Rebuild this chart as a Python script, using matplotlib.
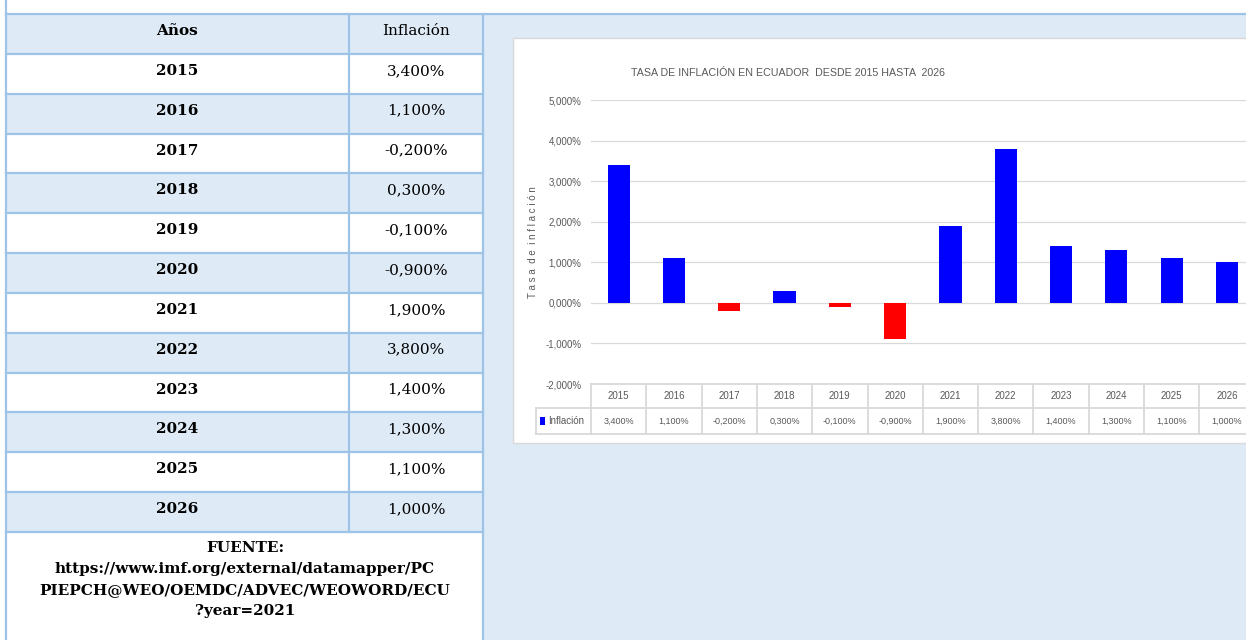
import matplotlib
matplotlib.use("Agg")
import matplotlib.pyplot as plt
from matplotlib.patches import Rectangle

years = ["2015", "2016", "2017", "2018", "2019", "2020",
         "2021", "2022", "2023", "2024", "2025", "2026"]
inflation = [3.4, 1.1, -0.2, 0.3, -0.1, -0.9, 1.9, 3.8, 1.4, 1.3, 1.1, 1.0]
y_ticks = [-2, -1, 0, 1, 2, 3, 4, 5]
header = ["Años", "Inflación"]
source_lines = ["FUENTE:",
                "https://www.imf.org/external/datamapper/PC",
                "PIEPCH@WEO/OEMDC/ADVEC/WEOWORD/ECU",
                "?year=2021"]
title = "TASA DE INFLACIÓN EN ECUADOR  DESDE 2015 HASTA  2026"

FILL = "#DEEAF6"
EDGE = "#9DC3E6"
GRID = "#D9D9D9"
GREY = "#595959"
SERIF = ["DejaVu Serif"]
NARROW = ["Liberation Sans Narrow", "Liberation Sans", "DejaVu Sans"]

W, H = 1246, 640


def fmt(v):
    return ("%.3f%%" % v).replace(".", ",")


fig = plt.figure(figsize=(W / 100, H / 100), dpi=100)

# page / table layer in pixel coordinates
bg = fig.add_axes([0, 0, 1, 1])
bg.set_xlim(0, W)
bg.set_ylim(H, 0)
bg.axis("off")

left, mid, right, top = 6, 349, 483, 14
row_h = (532 - top) / 13.0

bg.add_patch(Rectangle((right, top), W - right, H - top, fc=FILL, ec="none"))
for i in range(13):
    y0 = top + i * row_h
    bg.add_patch(Rectangle((left, y0), right - left, row_h,
                           fc=FILL if i % 2 == 0 else "white", ec="none"))

# borders
bg.plot([left, left], [0, H], color=EDGE, lw=1.6)
bg.plot([left, W], [top, top], color=EDGE, lw=1.6)
bg.plot([right, right], [top, H], color=EDGE, lw=1.6)
bg.plot([mid, mid], [top, 532], color=EDGE, lw=1.6)
for i in range(1, 14):
    y = top + i * row_h
    bg.plot([left, right], [y, y], color=EDGE, lw=1.6)

c1 = (left + mid) / 2.0
c2 = (mid + right) / 2.0
bg.text(c1, top + 21, header[0], ha="center", va="baseline",
        family=SERIF, fontsize=11, fontweight="bold", color="black")
bg.text(c2, top + 21, header[1], ha="center", va="baseline",
        family=SERIF, fontsize=11, color="black")
for i, (yr, v) in enumerate(zip(years, inflation)):
    yb = top + (i + 1) * row_h + 21
    bg.text(c1, yb, yr, ha="center", va="baseline", family=SERIF,
            fontsize=11, fontweight="bold", color="black")
    bg.text(c2, yb, fmt(v), ha="center", va="baseline", family=SERIF,
            fontsize=11, color="black")

for k, line in enumerate(source_lines):
    bg.text(245, 552 + k * 21, line, ha="center", va="baseline",
            family=SERIF, fontsize=11, fontweight="bold", color="black")

# white chart panel
bg.add_patch(Rectangle((513, 38), 760, 405, fc="white", ec=GRID, lw=1))
bg.text(788, 76, title, ha="center", va="baseline", family=NARROW,
        fontsize=7.7, color=GREY)

# chart axes
px_left, px_top, px_bot, col_w = 591, 100, 384, 55.3
ax = fig.add_axes([px_left / W, (H - px_bot) / H,
                   12 * col_w / W, (px_bot - px_top) / H])
ax.set_facecolor("none")
x = list(range(len(years)))
colors = ["#0000FF" if v >= 0 else "#FF0000" for v in inflation]
ax.bar(x, inflation, width=0.4, color=colors, zorder=2)
ax.set_xlim(-0.5, len(years) - 0.5)
ax.set_ylim(-2, 5)
ax.set_yticks(y_ticks)
ax.set_yticklabels([fmt(t) for t in y_ticks], family=NARROW,
                   fontsize=7, color=GREY)
ax.set_xticks([])
ax.tick_params(axis="y", length=0, pad=7)
ax.yaxis.grid(True, color=GRID, lw=0.9, zorder=0)
ax.set_axisbelow(True)
for s in ax.spines.values():
    s.set_visible(False)
ax.set_ylabel("T a s a  d e  i n f l a c i ó n", family=NARROW,
              fontsize=7, color=GREY)
ax.yaxis.set_label_coords((538 - px_left) / (12 * col_w), 0.5)

# data table under the plot
u = 7.0 / (px_bot - px_top)
r1 = -2 - 24 * u
r2 = -2 - 50 * u
n = len(years)
kw = dict(color=GRID, lw=1.3, clip_on=False, zorder=3)
ax.plot([-0.5, n - 0.5], [-2, -2], **kw)
ax.plot([-1.5, n - 0.5], [r1, r1], **kw)
ax.plot([-1.5, n - 0.5], [r2, r2], **kw)
for k in range(n + 1):
    ax.plot([k - 0.5, k - 0.5], [-2, r2], **kw)
ax.plot([-1.5, -1.5], [r1, r2], **kw)
for i, (yr, v) in enumerate(zip(years, inflation)):
    ax.text(i, (-2 + r1) / 2, yr, ha="center", va="center",
            family=NARROW, fontsize=7, color=GREY, clip_on=False)
    ax.text(i, (r1 + r2) / 2, fmt(v), ha="center", va="center",
            family=NARROW, fontsize=6.5, color=GREY, clip_on=False)
ax.add_patch(Rectangle((-1.5 + 4 / col_w, (r1 + r2) / 2 - 4 * u),
                       5 / col_w, 8 * u, fc="#0000FF", ec="none",
                       clip_on=False))
ax.text(-1.5 + 12 / col_w, (r1 + r2) / 2, "Inflación", ha="left",
        va="center", family=NARROW, fontsize=7, color=GREY)

fig.savefig("out.png", dpi=100)
